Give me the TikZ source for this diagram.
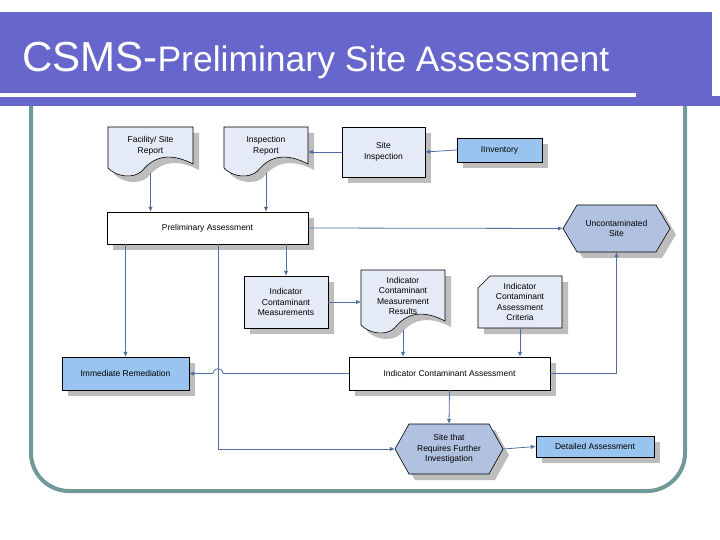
\documentclass[tikz,border=0pt]{standalone}
\usepackage{fontspec}
\setmainfont{Liberation Sans}
\usetikzlibrary{arrows.meta}
\begin{document}
\definecolor{barc}{HTML}{6666CC}
\definecolor{framec}{HTML}{6F9A98}
\definecolor{lightf}{HTML}{E4EAF6}
\definecolor{bluef}{HTML}{99C4F0}
\definecolor{hexf}{HTML}{B0C2E0}
\definecolor{arrc}{HTML}{4F70A0}
\definecolor{shad}{HTML}{BDBDBD}
\newcommand\docpath[5]{% x1 y1 x2 y2 offset
  ({#1+#5},{#2+#5}) -- ({#3+#5},{#2+#5}) -- ({#3+#5},{#4-13+#5}) .. controls ({#1+0.75*(#3-#1)+#5},{#4-24+#5}) and ({#1+0.55*(#3-#1)+#5},{#4-22+#5}) .. ({#1+0.4*(#3-#1)+#5},{#4-6+#5}) .. controls ({#1+0.3*(#3-#1)+#5},{#4+2+#5}) and ({#1+0.1*(#3-#1)+#5},{#4+#5}) .. ({#1+#5},{#4-9+#5}) -- cycle}
\newcommand\myrect[7]{% name x1 y1 x2 y2 fill text
  \fill[shad] (#2+6,#3+6) rectangle (#4+6,#5+6);
  \filldraw[fill=#6,draw=black,line width=0.6pt] (#2,#3) rectangle (#4,#5);
  \node[lbl] (#1) at ({(#2+#4)/2},{(#3+#5)/2}) [minimum width={#4-#2},minimum height={#5-#3}] {#7};}
\newcommand\mydoc[7]{% name x1 y1 x2 y2 text textcenter-y
  \fill[shad] \docpath{#2}{#3}{#4}{#5}{6};
  \filldraw[fill=lightf,draw=black,line width=0.6pt] \docpath{#2}{#3}{#4}{#5}{0};
  \node[lbl] (#1) at ({(#2+#4)/2},#7) {#6};
  \coordinate (#1-b) at ({(#2+#4)/2},#5-4);}
\newcommand\myhex[6]{% name x1 y1 x2 y2 text
  \fill[shad] (#2+6,{(#3+#5)/2+6}) -- (#2+20,#3+6) -- (#4-8,#3+6) -- (#4+6,{(#3+#5)/2+6}) -- (#4-8,#5+6) -- (#2+20,#5+6) -- cycle;
  \filldraw[fill=hexf,draw=black,line width=0.6pt] (#2,{(#3+#5)/2}) -- (#2+14,#3) -- (#4-14,#3) -- (#4,{(#3+#5)/2}) -- (#4-14,#5) -- (#2+14,#5) -- cycle;
  \node[lbl] (#1) at ({(#2+#4)/2},{(#3+#5)/2}) [minimum width={#4-#2},minimum height={#5-#3}] {#6};}
\begin{tikzpicture}[x=1pt,y=-1pt,
  lbl/.style={inner sep=0pt,align=center,font=\fontsize{8.5}{10.5}\selectfont},
  arr/.style={draw=arrc,line width=0.8pt,-{Latex[length=5pt,width=4.5pt]}}]
\useasboundingbox (0,0) rectangle (720,540);
% frame
\draw[framec,line width=4pt,rounded corners=38pt] (31,60) rectangle (685,491);
% title bar
\fill[barc] (0,12) rectangle (712,96);
\fill[barc] (0,96) rectangle (720,106);
\fill[white] (0,93) rectangle (636,97);
\node[anchor=base west,text=white,inner sep=0pt] (title) at (22,72) {\fontsize{42}{42}\selectfont CSMS-\fontsize{35.5}{36}\selectfont Preliminary Site Assessment};
% nodes
\mydoc{fac}{108}{127}{193}{177}{Facility/ Site\\Report}{146}
\mydoc{insp}{224}{127}{308}{177}{Inspection\\Report}{146}
\myrect{sinsp}{342}{127}{425}{177}{lightf}{Site\\Inspection}
\myrect{inv}{457}{138}{542}{162}{bluef}{IInventory}
\myrect{pa}{107}{212}{308}{244}{white}{Preliminary Assessment}
\myhex{unc}{563}{205}{670}{252}{Uncontaminated\\Site}
\myrect{icm}{244}{276}{328}{328}{lightf}{Indicator\\Contaminant\\Measurements}
\mydoc{res}{361}{270}{445}{334}{Indicator\\Contaminant\\Measurement\\Results}{296}
% criteria cut-corner
\fill[shad] (484,288) -- (496,282) -- (568,282) -- (568,334) -- (484,334) -- cycle;
\filldraw[fill=lightf,draw=black,line width=0.6pt] (478,288) -- (490,276) -- (562,276) -- (562,328) -- (478,328) -- cycle;
\node[lbl] (crit) at (520,302) [minimum width=84,minimum height=52] {Indicator\\Contaminant\\Assessment\\Criteria};
\myrect{imm}{62}{357}{189}{390}{bluef}{Immediate Remediation}
\myrect{ica}{349}{357}{550}{390}{white}{Indicator Contaminant Assessment}
\myhex{site}{395}{424}{503}{474}{Site that\\Requires Further\\Investigation}
\myrect{det}{536}{436}{654}{457}{bluef}{Detailed Assessment}
% connectors
\draw[arr] (fac-b) -- (fac-b |- pa.north);
\draw[arr] (insp-b) -- (insp-b |- pa.north);
\draw[arr] (sinsp.west) -- (sinsp.west -| 308,0);
\draw[arr] (inv.west) -- (sinsp.east);
\draw[arr] (pa.east) -- (unc.west);
\draw[arr] (pa.south -| imm.north) -- (imm.north);
\coordinate (bend) at (218,449);
\draw[arr] (pa.south -| bend) -- (bend) -- (site.west);
\draw[arr] (pa.south -| icm.north) -- (icm.north);
\draw[arr] (icm.east) -- (icm.east -| 361,0);
\draw[arr] (res-b) -- (res-b |- ica.north);
\draw[arr] (crit.south) -- (crit.south |- ica.north);
\coordinate (hopa) at (223,373.5);
\coordinate (hopb) at (213,373.5);
\draw[arr] (ica.west) -- (hopa) .. controls (222,367) and (214,367) .. (hopb) -- (imm.east);
\draw[arr] (ica.east) -| (unc.south);
\draw[arr] (ica.south) -- (site.north);
\draw[arr] (site.east) -- (det.west);
\end{tikzpicture}
\end{document}
